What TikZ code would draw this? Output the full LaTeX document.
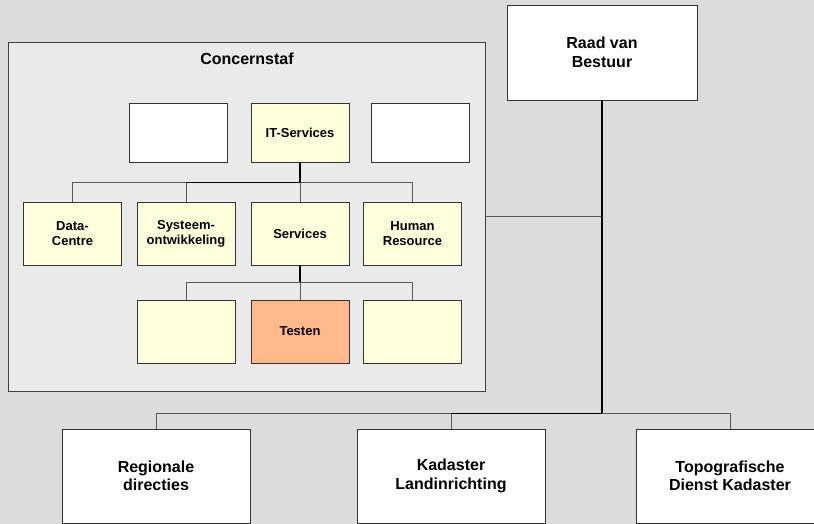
\documentclass[tikz,border=0pt]{standalone}
\usepackage{fontspec}
\setmainfont{Liberation Sans}
\begin{document}
\begin{tikzpicture}[x=1pt,y=-1pt,
  box/.style={draw=black!80,line width=0.8pt,fill=white,align=center,inner sep=0pt,
    font=\bfseries\fontsize{13}{15.3}\selectfont},
  smallbox/.style={box,minimum width=98pt,minimum height=59pt},
  midbox/.style={box,fill=yel,minimum width=98pt,minimum height=63pt},
  bigbox/.style={box,font=\bfseries\fontsize{16}{18.5}\selectfont},
  trunk/.style={draw=black,line width=1.6pt},
  mainseg/.style={draw=black,line width=0.9pt},
  branch/.style={draw=black!65,line width=1pt}]
\definecolor{bgc}{HTML}{DCDCDC}
\definecolor{staf}{HTML}{EAEAEA}
\definecolor{yel}{HTML}{FFFFDC}
\definecolor{salmon}{HTML}{FFB98A}
\useasboundingbox (0,0) rectangle (814,524);
\clip (0,0) rectangle (814,524);
\fill[bgc] (0,0) rectangle (814,524);
% Concernstaf region
\node[draw=black!75,line width=1pt,fill=staf,minimum width=477pt,minimum height=348pt,inner sep=0pt] (cs) at (246.5,217) {};
\node[font=\bfseries\fontsize{16}{18.5}\selectfont] (cst) at (247,59) {Concernstaf};
% top row
\node[smallbox] (w1) at (178,132.5) {};
\node[smallbox,fill=yel] (it) at (300,132.5) {IT-Services};
\node[smallbox] (w2) at (420,132.5) {};
% second row
\node[midbox] (dc) at (72.5,233.5) {Data-\\Centre};
\node[midbox] (so) at (186,233.5) {Systeem-\\ontwikkeling};
\node[midbox] (sv) at (300,233.5) {Services};
\node[midbox] (hr) at (412.5,233.5) {Human\\Resource};
% third row
\node[midbox] (t1) at (186,331.5) {};
\node[midbox,fill=salmon] (te) at (300,331.5) {Testen};
\node[midbox] (t3) at (412.5,331.5) {};
% top right
\node[bigbox,minimum width=190pt,minimum height=95pt] (rvb) at (602,52.5) {Raad van\\Bestuur};
% bottom row
\node[bigbox,minimum width=188pt,minimum height=94pt] (rd) at (156,476) {Regionale\\directies};
\node[bigbox,minimum width=188pt,minimum height=94pt] (kl) at (451,476) {Kadaster\\Landinrichting};
\node[bigbox,minimum width=188pt,minimum height=94pt] (td) at (730,476) {Topografische\\Dienst Kadaster};
% junctions
\coordinate (j1) at (300,182);
\coordinate (j2) at (300,282);
\coordinate (j3) at (602,413);
\coordinate (j4) at (602,216);
% connectors inside Concernstaf
\draw[trunk] (it.south) -- (j1);
\draw[branch] (j1) -| (dc.north);
\draw[branch] (j1) -| (so.north);
\draw[branch] (j1) -- (sv.north);
\draw[branch] (j1) -| (hr.north);
\draw[mainseg] (j1) -- (so.north |- j1);
\draw[trunk] (sv.south) -- (j2);
\draw[branch] (j2) -| (t1.north);
\draw[branch] (j2) -- (te.north);
\draw[branch] (j2) -| (t3.north);
% main trunk
\draw[branch] (cs.east |- j4) -- (j4);
\draw[trunk] (rvb.south) -- (j3);
\draw[branch] (j3) -| (rd.north);
\draw[branch] (j3) -| (kl.north);
\draw[branch] (j3) -| (td.north);
\draw[mainseg] (j3) -- (kl.north |- j3);
\end{tikzpicture}
\end{document}
